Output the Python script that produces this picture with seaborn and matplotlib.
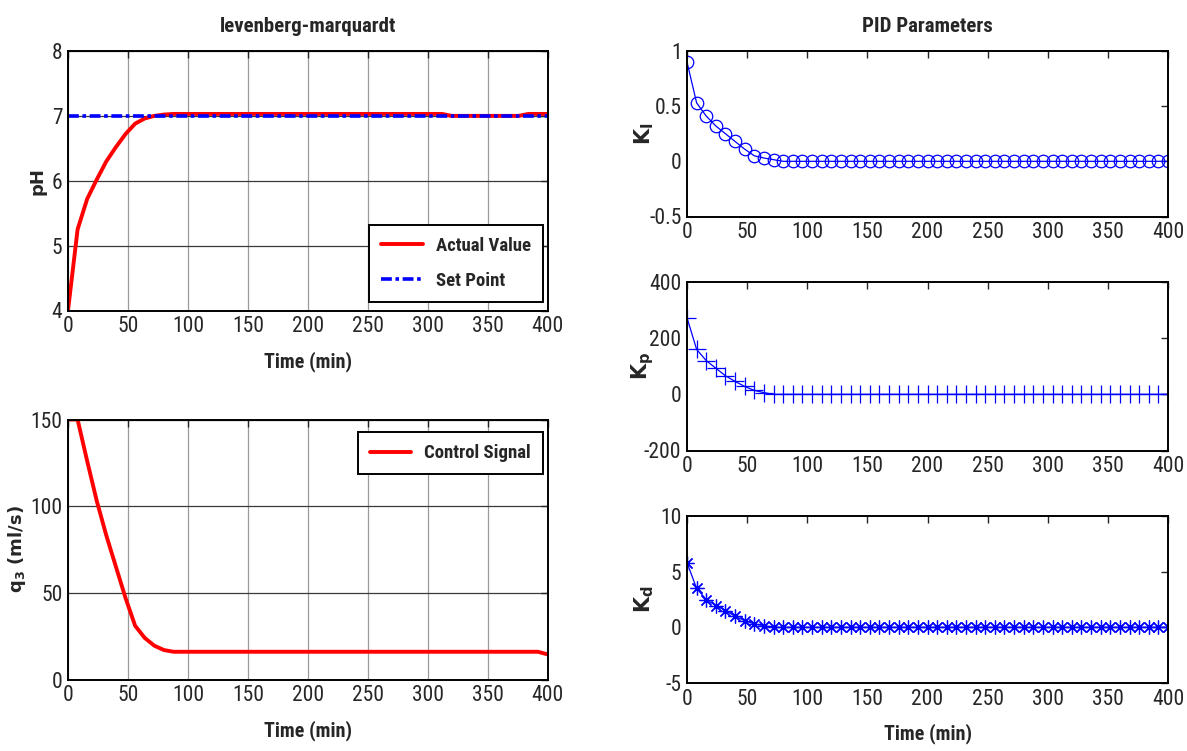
import numpy as np
import pandas as pd
import matplotlib
matplotlib.use("Agg")
import matplotlib.pyplot as plt
from matplotlib import font_manager
import seaborn as sns

# ---------------- data ----------------
time_min = np.arange(0, 401, 8)

ph_actual = ([4.0, 5.25, 5.72, 6.02, 6.30, 6.52, 6.72, 6.88, 6.96, 7.0, 7.02, 7.03]
             + [7.03] * 28 + [7.0] * 8 + [7.03] * 3)
ph_setpoint = [7.0] * 51

control_signal = ([150, 150, 126, 103, 83, 65, 47, 31, 24, 19.5, 17, 16]
                  + [16] * 38 + [14.5])

k_i = [0.90, 0.53, 0.41, 0.32, 0.25, 0.18, 0.11, 0.05, 0.03, 0.015] + [0.0] * 41
k_p = [273, 160, 120, 93, 66, 46, 28, 14, 6] + [0] * 42
k_d = [5.8, 3.5, 2.5, 1.95, 1.5, 1.0, 0.6, 0.3, 0.15] + [0.0] * 42

x_ticks = [0, 50, 100, 150, 200, 250, 300, 350, 400]

# ---------------- style ----------------
sns.set_style("white")

# pick a narrow / condensed font if one is installed
fonts = font_manager.fontManager.ttflist
names = {f.name for f in fonts}
font_name, stretch = "Liberation Sans", "normal"
for cand in ["Liberation Sans Narrow", "Roboto Condensed", "Open Sans Condensed",
             "Noto Sans Condensed", "Arial Narrow"]:
    if cand in names:
        font_name = cand
        break
else:
    for fam in ["Noto Sans", "Open Sans", "DejaVu Sans", "Roboto"]:
        if any(f.name == fam and "condensed" in str(f.stretch).lower() for f in fonts):
            font_name, stretch = fam, "condensed"
            break

plt.rcParams["font.family"] = [font_name, "DejaVu Sans"]
plt.rcParams["font.stretch"] = stretch
plt.rcParams["mathtext.fontset"] = "dejavusans"
plt.rcParams["axes.unicode_minus"] = False
plt.rcParams["xtick.direction"] = "in"
plt.rcParams["ytick.direction"] = "in"

TICK_FS = 15.5
LAB_FS = 14.5

fig = plt.figure(figsize=(11.87, 7.51), dpi=100)
W, H = 1187.0, 751.0


def add_ax(x0, y0, x1, y1):
    return fig.add_axes([x0 / W, 1 - y1 / H, (x1 - x0) / W, (y1 - y0) / H])


ax_ph = add_ax(68, 51, 547.5, 310.5)
ax_q = add_ax(68, 419.5, 547.5, 679.5)
ax_ki = add_ax(687, 51, 1168, 216.5)
ax_kp = add_ax(687, 282, 1168, 450.5)
ax_kd = add_ax(687, 516, 1168, 683)


def style_ax(ax, grid=False):
    for s in ax.spines.values():
        s.set_visible(True)
        s.set_color("black")
        s.set_linewidth(1.4)
    ax.tick_params(which="both", direction="in", top=True, right=True,
                   length=5, width=1.0, labelsize=TICK_FS, pad=4)
    ax.set_xlim(0, 400)
    ax.set_xticks(x_ticks)
    if grid:
        ax.xaxis.grid(True, color="#9a9a9a", linewidth=0.9)
        ax.yaxis.grid(True, color="#3a3a3a", linewidth=0.9)
        ax.set_axisbelow(True)
    else:
        ax.grid(False)


def label_x(ax, px, x0, x1):
    # place the y label so its right edge lies at pixel column px
    ax.yaxis.set_label_coords((px - x0) / (x1 - x0), 0.5)


leg_kw = dict(prop={"size": 13.5, "weight": "bold"}, frameon=True,
              fancybox=False, framealpha=1, edgecolor="black",
              handlelength=2.2, handletextpad=0.7, borderaxespad=0.0)

# ---------------- pH plot ----------------
df_ph = pd.DataFrame({"t": time_min, "actual": ph_actual, "set": ph_setpoint})
sns.lineplot(data=df_ph, x="t", y="actual", ax=ax_ph, color="#ff0000",
             linewidth=2.8, label="Actual Value")
sns.lineplot(data=df_ph, x="t", y="set", ax=ax_ph, color="#0000ff",
             linewidth=2.6, linestyle=(0, (3, 1, 1, 1)), label="Set Point")
style_ax(ax_ph, grid=True)
ax_ph.set_ylim(4, 8)
ax_ph.set_yticks([4, 5, 6, 7, 8])
ax_ph.set_title("levenberg-marquardt", fontsize=15, fontweight="bold", pad=14)
ax_ph.set_xlabel("Time (min)", fontsize=LAB_FS, fontweight="bold", labelpad=10)
ax_ph.set_ylabel("pH", fontsize=13, fontweight="bold", family="DejaVu Sans")
label_x(ax_ph, 46, 68, 547.5)
leg = ax_ph.legend(loc="lower right", bbox_to_anchor=(0.9906, 0.033),
                   borderpad=0.65, labelspacing=0.9, **leg_kw)
leg.get_frame().set_linewidth(1.4)

# ---------------- control signal ----------------
df_q = pd.DataFrame({"t": time_min, "q": control_signal})
sns.lineplot(data=df_q, x="t", y="q", ax=ax_q, color="#ff0000",
             linewidth=2.8, label="Control Signal")
style_ax(ax_q, grid=True)
ax_q.set_ylim(0, 150)
ax_q.set_yticks([0, 50, 100, 150])
ax_q.set_xlabel("Time (min)", fontsize=LAB_FS, fontweight="bold", labelpad=10)
ax_q.set_ylabel(r"q$_\mathbf{3}$ (ml/s)", fontsize=13, fontweight="bold",
                family="DejaVu Sans")
label_x(ax_q, 28, 68, 547.5)
leg2 = ax_q.legend(loc="upper right", bbox_to_anchor=(0.9906, 0.952),
                   borderpad=0.65, **leg_kw)
leg2.get_frame().set_linewidth(1.4)

# ---------------- PID parameters ----------------
blue = "#0000ff"
df_k = pd.DataFrame({"t": time_min, "ki": k_i, "kp": k_p, "kd": k_d})

sns.lineplot(data=df_k, x="t", y="ki", ax=ax_ki, color=blue, linewidth=0.9,
             marker="o", markersize=9, markerfacecolor="none",
             markeredgecolor=blue, markeredgewidth=0.9)
style_ax(ax_ki)
ax_ki.set_ylim(-0.5, 1)
ax_ki.set_yticks([-0.5, 0, 0.5, 1])
ax_ki.set_yticklabels(["-0.5", "0", "0.5", "1"])
ax_ki.set_xlabel("")
ax_ki.set_ylabel(r"$\mathbf{K_I}$", fontsize=15)
label_x(ax_ki, 656, 687, 1168)
ax_ki.set_title("PID Parameters", fontsize=15, fontweight="bold", pad=14)

sns.lineplot(data=df_k, x="t", y="kp", ax=ax_kp, color=blue, linewidth=0.9,
             marker="+", markersize=13, markeredgecolor=blue,
             markeredgewidth=0.9)
style_ax(ax_kp)
ax_kp.set_ylim(-200, 400)
ax_kp.set_yticks([-200, 0, 200, 400])
ax_kp.set_xlabel("")
ax_kp.set_ylabel(r"$\mathbf{K_p}$", fontsize=15)
label_x(ax_kp, 656, 687, 1168)

sns.lineplot(data=df_k, x="t", y="kd", ax=ax_kd, color=blue, linewidth=0.9,
             marker=(8, 2, 0), markersize=10, markeredgecolor=blue,
             markeredgewidth=0.9)
style_ax(ax_kd)
ax_kd.set_ylim(-5, 10)
ax_kd.set_yticks([-5, 0, 5, 10])
ax_kd.set_xlabel("Time (min)", fontsize=LAB_FS, fontweight="bold", labelpad=10)
ax_kd.set_ylabel(r"$\mathbf{K_d}$", fontsize=15)
label_x(ax_kd, 656, 687, 1168)

fig.savefig("out.png", dpi=100)
